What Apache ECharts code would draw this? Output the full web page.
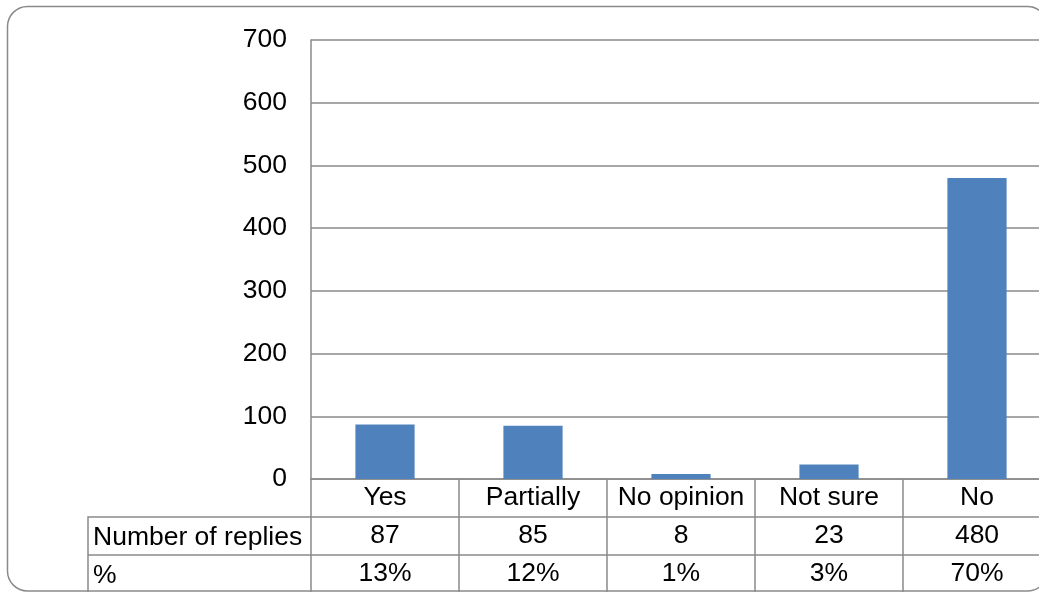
<!DOCTYPE html>
<html>
<head>
<meta charset="utf-8">
<script src="https://cdn.jsdelivr.net/npm/echarts@6/dist/echarts.min.js"></script>
<style>
  html, body { margin: 0; padding: 0; background: #fff; }
  #chart { width: 1039px; height: 592px; }
</style>
</head>
<body>
<div id="chart"></div>
<script>
var categories = ['Yes', 'Partially', 'No opinion', 'Not sure', 'No'];
var replies = [87, 85, 8, 23, 480];
var percents = ['13%', '12%', '1%', '3%', '70%'];
var rowHeaders = ['Number of replies', '%'];

var lineColor = '#8a8a8a';
var font = 'Liberation Sans, Arial, sans-serif';
var fontSize = 26.5;
var rowH = 38;

// one x axis per data table row, stacked below the plot
function tableAxis(data, offset) {
    return {
        type: 'category',
        data: data,
        position: 'bottom',
        offset: offset,
        axisLine: { show: true, lineStyle: { color: lineColor, width: 1.5 } },
        axisTick: { show: true, length: rowH, inside: false, lineStyle: { color: lineColor, width: 1.5 } },
        axisLabel: {
            color: '#000', fontFamily: font, fontSize: fontSize,
            verticalAlign: 'middle', margin: rowH / 2, interval: 0
        },
        splitLine: { show: false }
    };
}

var chart = echarts.init(document.getElementById('chart'));

var option = {
    animation: false,
    backgroundColor: '#fff',
    // plot runs past the right edge of the picture, like the original
    grid: { left: 311, top: 40, bottom: 113, width: 740, outerBoundsMode: 'none', containLabel: false },
    xAxis: [
        tableAxis(categories, 0),
        tableAxis(replies.map(String), rowH),
        tableAxis(percents, rowH * 2)
    ],
    yAxis: {
        type: 'value',
        min: 0,
        max: 700,
        interval: 100,
        axisLine: { show: true, lineStyle: { color: lineColor, width: 1.5 } },
        axisTick: { show: false },
        axisLabel: { color: '#000', fontFamily: font, fontSize: fontSize, margin: 24 },
        splitLine: { lineStyle: { color: lineColor, width: 1.5 } }
    },
    series: [{
        type: 'bar',
        xAxisIndex: 0,
        data: replies,
        barWidth: '40%',
        itemStyle: { color: '#4f81bd' }
    }],
    graphic: [
        // rounded chart frame
        {
            type: 'rect', silent: true, z: 100,
            shape: { x: 7.5, y: 6.5, width: 1040, height: 584.5, r: 20 },
            style: { fill: null, stroke: '#8a8a8a', lineWidth: 1.5 }
        },
        // header column of the data table
        {
            type: 'polyline', silent: true,
            shape: { points: [[311, 517], [88, 517], [88, 592]] },
            style: { fill: null, stroke: lineColor, lineWidth: 1.5 }
        },
        {
            type: 'line', silent: true,
            shape: { x1: 88, y1: 555, x2: 311, y2: 555 },
            style: { stroke: lineColor, lineWidth: 1.5 }
        },
        {
            type: 'text', left: 93, top: 536 - 12,
            style: { text: rowHeaders[0], fill: '#000', font: fontSize + 'px ' + font, verticalAlign: 'top' }
        },
        {
            type: 'text', left: 93, top: 574 - 12,
            style: { text: rowHeaders[1], fill: '#000', font: fontSize + 'px ' + font, verticalAlign: 'top' }
        }
    ]
};

chart.setOption(option);
</script>
</body>
</html>
